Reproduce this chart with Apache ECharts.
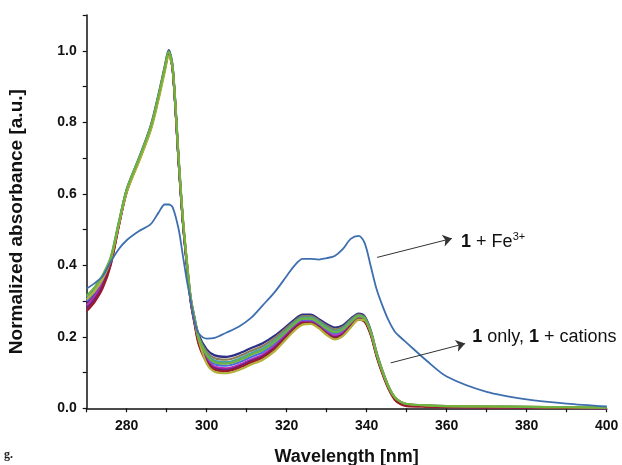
<!DOCTYPE html>
<html><head><meta charset="utf-8">
<script src="https://cdn.jsdelivr.net/npm/echarts@6/dist/echarts.min.js"></script>
<style>html,body{margin:0;padding:0;background:#fff}#c{width:622px;height:465px}</style>
</head><body><div id="c"></div>
<script>
// Wavelength grid (nm)
const wavelengths = [270,272,274,276,278,280,283,286,288,289.5,290.5,291.5,293,294,295,296,297,298,300,302,305,308,311,314,317,320,322,324,326,328,330,332,334,336,338,339.5,341,342.5,344,345.5,347,348.5,350,355,360,370,380,390,400];

// 1 + Fe3+
const feSeries = [.335,.350,.370,.410,.445,.470,.495,.515,.548,.570,.570,.562,.500,.430,.360,.300,.240,.210,.195,.197,.212,.228,.252,.288,.325,.370,.400,.418,.418,.416,.420,.426,.445,.474,.482,.462,.398,.332,.285,.245,.215,.198,.183,.133,.089,.046,.025,.013,.005];

// 1 only, 1 + cations
const sNavy   = [.295,.320,.356,.412,.513,.612,.698,.790,.880,.955,1.002,.955,.695,.534,.414,.310,.252,.205,.165,.148,.144,.153,.168,.182,.203,.230,.249,.262,.262,.250,.236,.226,.232,.251,.265,.257,.218,.155,.103,.060,.031,.018,.012,.008,.006,.005,.004,.003,.002];
const sBrown  = [.300,.326,.361,.416,.515,.609,.694,.784,.873,.948,.993,.948,.690,.530,.410,.306,.248,.200,.158,.140,.136,.145,.160,.174,.196,.225,.244,.258,.258,.246,.231,.221,.227,.247,.262,.254,.215,.152,.101,.059,.030,.017,.011,.007,.005,.004,.003,.002,.001];
const sTeal   = [.312,.336,.370,.421,.518,.611,.696,.786,.876,.951,.996,.951,.691,.531,.411,.306,.247,.198,.152,.133,.129,.138,.153,.167,.189,.219,.240,.254,.254,.242,.226,.216,.223,.244,.259,.252,.213,.151,.100,.058,.030,.017,.011,.007,.005,.004,.003,.002,.001];
const sBlue   = [.301,.325,.359,.414,.514,.609,.694,.784,.874,.949,.994,.949,.689,.529,.409,.304,.244,.193,.144,.123,.119,.128,.143,.157,.180,.211,.232,.246,.246,.234,.218,.208,.215,.237,.255,.248,.211,.149,.099,.057,.029,.016,.010,.006,.004,.003,.002,.001,.000];
const sMagenta= [.288,.313,.349,.408,.511,.607,.692,.782,.872,.947,.992,.947,.687,.527,.407,.302,.240,.187,.137,.116,.112,.121,.136,.150,.174,.206,.228,.242,.242,.230,.213,.203,.211,.233,.252,.245,.209,.148,.098,.057,.029,.016,.010,.006,.004,.003,.002,.001,.000];
const sPurple = [.280,.305,.342,.404,.509,.606,.692,.782,.872,.948,.993,.948,.688,.528,.406,.300,.237,.183,.133,.112,.108,.117,.132,.146,.170,.203,.225,.240,.240,.228,.210,.199,.207,.230,.250,.244,.208,.147,.098,.057,.029,.016,.010,.006,.004,.003,.002,.001,.000];
const sDarkRed= [.272,.298,.336,.401,.508,.606,.692,.782,.872,.947,.992,.946,.686,.526,.404,.298,.234,.179,.129,.108,.104,.113,.128,.142,.166,.200,.222,.238,.238,.226,.208,.196,.204,.228,.248,.242,.205,.144,.094,.053,.024,.011,.006,.004,.003,.002,.002,.001,.000];
const sOlive  = [.305,.328,.362,.415,.512,.604,.688,.777,.865,.940,.985,.952,.700,.540,.418,.310,.245,.192,.125,.102,.098,.107,.122,.136,.160,.195,.218,.234,.236,.224,.205,.193,.202,.226,.248,.246,.212,.152,.101,.059,.031,.018,.012,.008,.006,.005,.004,.003,.002];
const sGreen  = [.315,.339,.373,.422,.519,.612,.697,.787,.877,.952,.998,.952,.692,.532,.412,.306,.246,.196,.149,.129,.125,.134,.149,.163,.186,.216,.237,.251,.251,.239,.223,.213,.220,.241,.258,.251,.213,.151,.101,.059,.031,.018,.012,.008,.006,.005,.004,.003,.002];

const xTickLabels = [280,300,320,340,360,380,400];

// annotation anchors (data coordinates)
const arrowFe = [[342.6,0.422],[361.3,0.475]];
const labelFe = [363.6,0.465];
const arrowCat = [[346.0,0.127],[364.6,0.181]];
const labelCat = [366.4,0.200];

const groupDefs = [
  ['navy', sNavy, '#2e2f86'],
  ['brown', sBrown, '#8d7d55'],
  ['teal', sTeal, '#3fa3a8'],
  ['blue', sBlue, '#4b6fe0'],
  ['magenta', sMagenta, '#c02fb0'],
  ['purple', sPurple, '#6b2283'],
  ['darkred', sDarkRed, '#9a1c2c'],
  ['olive', sOlive, '#b3b13a'],
  ['green', sGreen, '#6db33f']
];

const pair = arr => wavelengths.map((w,i)=>[w, arr[i]]);
const FONT = "'Liberation Sans', Arial, sans-serif";

const series = groupDefs.map(([name, arr, color]) => ({
  name, type:'line', data: pair(arr), showSymbol:false, smooth:0.3,
  lineStyle:{color, width:2.2}, itemStyle:{color}, silent:true
}));

const richTxt = {
  b:{fontWeight:'bold', fontSize:18, fontFamily:FONT, color:'#111'},
  n:{fontSize:18, fontFamily:FONT, color:'#111'},
  sup:{fontSize:11, fontFamily:FONT, color:'#111', verticalAlign:'top', padding:[0,0,10,0]}
};

series.push({
  name:'fe', type:'line', data: pair(feSeries), showSymbol:false, smooth:0.3,
  lineStyle:{color:'#3d6fae', width:1.8}, itemStyle:{color:'#3d6fae'}, silent:true,
  markLine:{
    silent:true, symbol:['none','arrow'], symbolSize:9,
    lineStyle:{color:'#333', width:1, type:'solid'},
    itemStyle:{color:'#111'},
    label:{show:false},
    data:[
      [{coord:arrowFe[0]},{coord:arrowFe[1]}],
      [{coord:arrowCat[0]},{coord:arrowCat[1]}]
    ]
  },
  markPoint:{
    silent:true, symbol:'circle', symbolSize:0,
    label:{show:true, position:'right', distance:0, rich:richTxt},
    data:[
      {coord:labelFe, label:{formatter:'{b|1}{n| + Fe}{sup|3+}'}},
      {coord:labelCat, label:{formatter:'{b|1}{n| only, }{b|1}{n| + cations}'}}
    ]
  }
});

const chart = echarts.init(document.getElementById('c'), null, {renderer:'canvas'});
chart.setOption({
  animation:false,
  backgroundColor:'#fff',
  grid:{left:86.7, right:15.3, top:15, bottom:56.7, containLabel:false, outerBoundsMode:'none'},
  xAxis:{
    type:'value', min:270, max:400, interval:10,
    axisLine:{show:true, lineStyle:{color:'#111', width:1.5}},
    axisTick:{show:true, length:4, lineStyle:{color:'#111', width:1.2}},
    splitLine:{show:false},
    axisLabel:{
      margin:11, color:'#111', fontWeight:'bold', fontSize:14, fontFamily:FONT,
      formatter: v => xTickLabels.includes(Math.round(v)) ? String(Math.round(v)) : ''
    },
    name:'Wavelength [nm]', nameLocation:'middle', nameGap:40,
    nameTextStyle:{fontWeight:'bold', fontSize:18, fontFamily:FONT, color:'#111'}
  },
  yAxis:{
    type:'value', min:0, max:1.1, interval:0.1,
    axisLine:{show:true, lineStyle:{color:'#111', width:1.5}},
    axisTick:{show:true, length:4, lineStyle:{color:'#111', width:1.2}},
    splitLine:{show:false},
    axisLabel:{
      margin:10, color:'#111', fontWeight:'bold', fontSize:14, fontFamily:FONT,
      formatter: v => { const k = Math.round(v*10); return (k%2===0 && k<=10) ? (k/10).toFixed(1) : ''; }
    },
    name:'Normalized absorbance [a.u.]', nameLocation:'middle', nameGap:60,
    nameTextStyle:{fontWeight:'bold', fontSize:19, fontFamily:FONT, color:'#111', padding:[0,20,0,0]}
  },
  graphic:[
    {type:'text', left:4, top:449, style:{text:'g.', font:"bold 12px 'Liberation Serif', serif", fill:'#222'}}
  ],
  series
});
</script>
</body></html>
